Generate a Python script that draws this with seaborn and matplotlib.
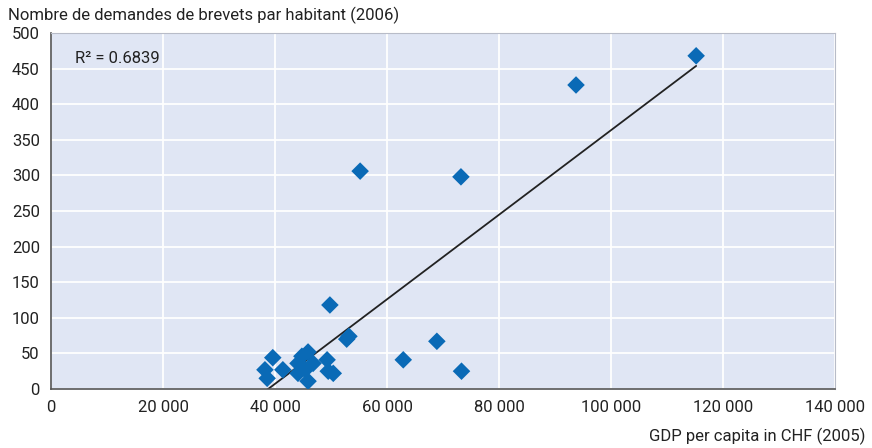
import numpy as np
import pandas as pd
import matplotlib
matplotlib.use('Agg')
import matplotlib.pyplot as plt
import matplotlib.ticker as mticker
import seaborn as sns
from matplotlib import font_manager

# GDP per capita (CHF, 2005) and patent applications per inhabitant (2006)
gdp = [115200, 93750, 55200, 73200, 49800, 53200, 52800, 68900, 62900, 73300,
       39600, 38200, 38600, 41400, 45900, 44800, 44100, 46800, 44100, 45400,
       45900, 49300, 49500, 50400]
patents = [468, 427, 306, 298, 118, 74, 70, 67, 41, 25,
           44, 27, 15, 27, 52, 46, 36, 36, 22, 27,
           11, 41, 25, 22]
r2_label = "R² = 0.6839"
x_ticks = [0, 20000, 40000, 60000, 80000, 100000, 120000, 140000]
y_ticks = [0, 50, 100, 150, 200, 250, 300, 350, 400, 450, 500]

df = pd.DataFrame({'gdp': gdp, 'patents': patents})

sns.set_style('white')
names = {f.name for f in font_manager.fontManager.ttflist}
fam = 'Liberation Sans Narrow' if 'Liberation Sans Narrow' in names else 'Roboto'
plt.rcParams['font.family'] = [fam, 'DejaVu Sans']

fig = plt.figure(figsize=(8.72, 4.48), dpi=100)
ax = fig.add_axes([0.0585, 0.1317, 0.8991, 0.7946])
ax.set_facecolor('#e0e6f4')

sns.regplot(data=df, x='gdp', y='patents', ax=ax, ci=None, truncate=True,
            scatter=False, line_kws={'color': '#222222', 'lw': 1.3})
sns.scatterplot(data=df, x='gdp', y='patents', ax=ax, marker='D', s=80,
                color='#0a6ab6', edgecolor='none', zorder=3)

ax.set_xlim(0, 140000)
ax.set_ylim(0, 500)
ax.set_xticks(x_ticks)
ax.set_yticks(y_ticks)
ax.xaxis.set_major_formatter(mticker.FuncFormatter(lambda v, p: f"{int(v):,}".replace(',', ' ')))
ax.grid(True, color='white', lw=1.3)
ax.set_axisbelow(True)
for s in ['top', 'right']:
    ax.spines[s].set_color('#b8bcc8')
    ax.spines[s].set_linewidth(0.8)
for s in ['left', 'bottom']:
    ax.spines[s].set_color('#555555')
    ax.spines[s].set_linewidth(1.2)
ax.tick_params(axis='y', direction='out', length=5, width=1, color='#555555',
               labelsize=12, pad=3, labelcolor='#222222')
ax.tick_params(axis='x', direction='in', length=5, width=1, color='#555555',
               labelsize=12, pad=8, labelcolor='#222222')
ax.set_xlabel('')
ax.set_ylabel('')

ax.text(0.03, 0.95, r2_label, transform=ax.transAxes, fontsize=12,
        va='top', ha='left', color='#222222')
fig.text(0.009, 0.965, 'Nombre de demandes de brevets par habitant (2006)',
         fontsize=12, ha='left', va='center', color='#222222')
fig.text(0.992, 0.025, 'GDP per capita in CHF (2005)',
         fontsize=12, ha='right', va='center', color='#222222')

fig.savefig('out.png', dpi=100)
